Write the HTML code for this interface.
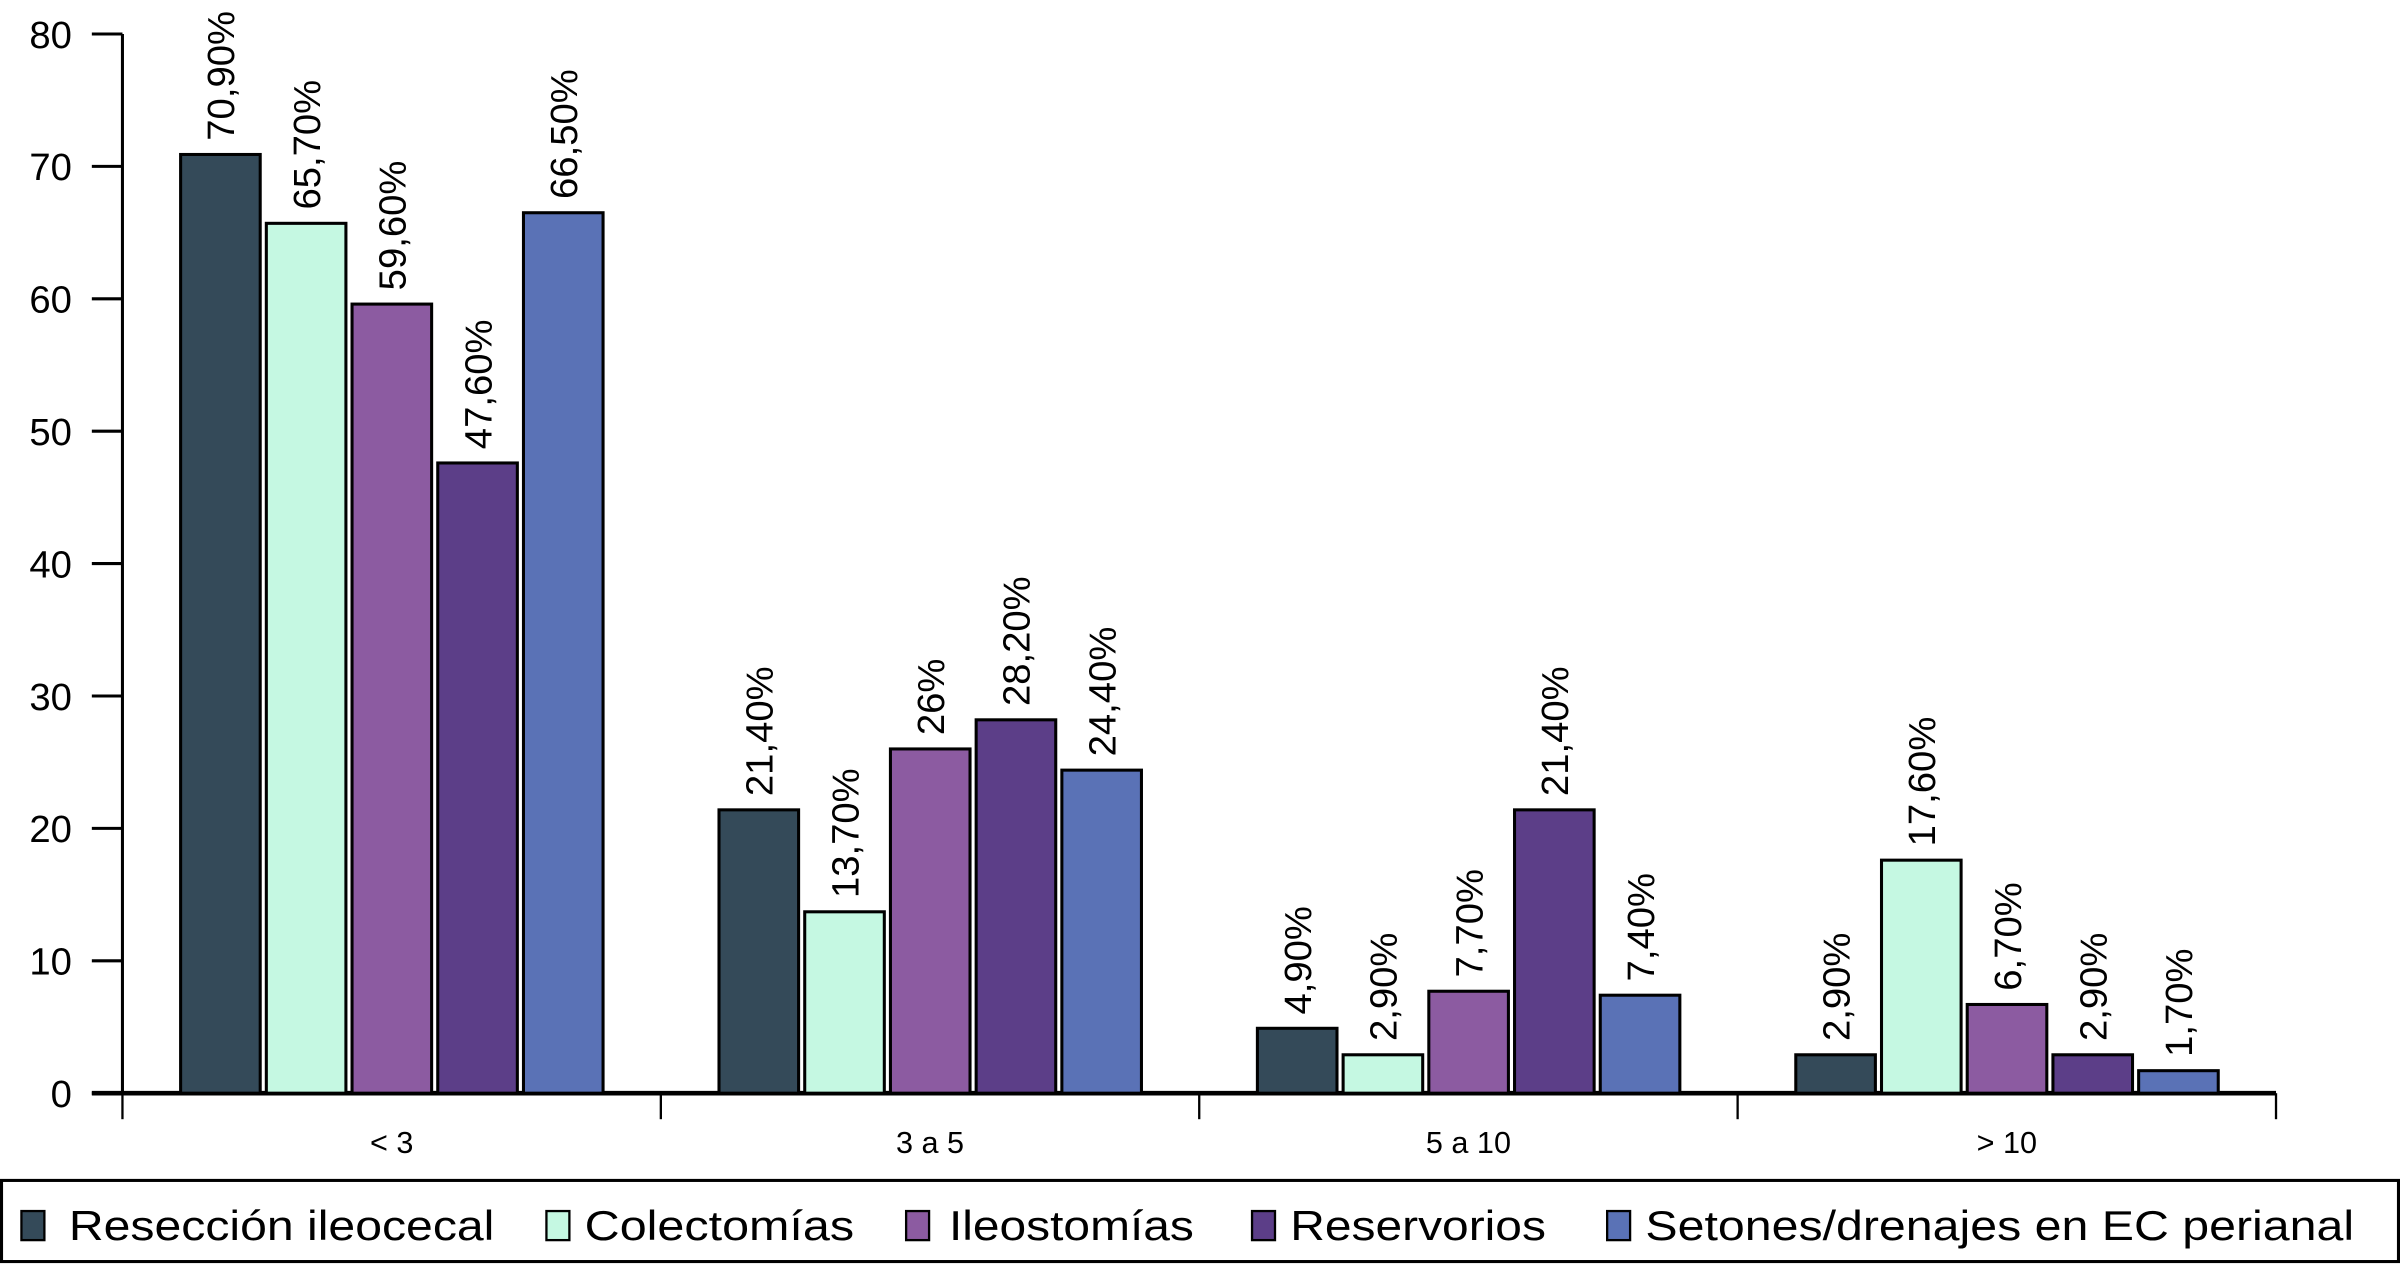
<!DOCTYPE html>
<html><head><meta charset="utf-8"><style>
html,body{margin:0;padding:0;background:#fff}
svg{display:block}
text{font-family:"Liberation Sans",sans-serif;fill:#000}
</style></head><body>
<svg id="chart" width="2400" height="1268" viewBox="0 0 1568 828" xmlns="http://www.w3.org/2000/svg">
<g id="axes"></g>
<g id="bars"></g>
<g id="legend"></g>
</svg>
<script>
const categories = ["< 3", "3 a 5", "5 a 10", "> 10"];
const seriesNames = ["Resección ileocecal", "Colectomías", "Ileostomías", "Reservorios", "Setones/drenajes en EC perianal"];
const resValues = [70.9, 21.4, 4.9, 2.9];
const colValues = [65.7, 13.7, 2.9, 17.6];
const ileValues = [59.6, 26, 7.7, 6.7];
const resvValues = [47.6, 28.2, 21.4, 2.9];
const setValues = [66.5, 24.4, 7.4, 1.7];
const resLabels = ["70,90%", "21,40%", "4,90%", "2,90%"];
const colLabels = ["65,70%", "13,70%", "2,90%", "17,60%"];
const ileLabels = ["59,60%", "26%", "7,70%", "6,70%"];
const resvLabels = ["47,60%", "28,20%", "21,40%", "2,90%"];
const setLabels = ["66,50%", "24,40%", "7,40%", "1,70%"];
const yTicks = [0, 10, 20, 30, 40, 50, 60, 70, 80];

const series = [resValues, colValues, ileValues, resvValues, setValues];
const labels = [resLabels, colLabels, ileLabels, resvLabels, setLabels];
const colors = ["#344a59", "#c5f8e2", "#8c5ba1", "#5c3e88", "#5a72b6"];
const NS = "http://www.w3.org/2000/svg";
const x0 = 80, x1 = 1487, yBase = 714, yTop = 22, yMax = 80;
const groupW = (x1 - x0) / categories.length;
const barW = 52, barStep = 56;
function y(v){ return yBase - (v / yMax) * (yBase - yTop); }
function xBar(ci, si){ return x0 + ci * groupW + 38 + si * barStep; }
function mk(tag, attrs, parent){ const e = document.createElementNS(NS, tag); for (const k in attrs) e.setAttribute(k, attrs[k]); parent.appendChild(e); return e; }

const axes = document.getElementById('axes');
let l = mk('line', {x1: x0, y1: yTop, x2: x0, y2: yBase, stroke: '#000', 'stroke-width': 2}, axes);


yTicks.forEach(t => {
  const tl = mk('line', {x1: 60, y1: y(t), x2: x0, y2: y(t), stroke: '#000', 'stroke-width': 2}, axes);
  
  
  const tx = mk('text', {x: 47, y: y(t) + 9, 'text-anchor': 'end', 'font-size': 25}, axes);
  tx.textContent = t;
  
  
});
categories.forEach((c, i) => {
  const tx = mk('text', {x: x0 + (i + 0.5) * groupW, y: 753, 'text-anchor': 'middle', 'font-size': 20}, axes);
  tx.textContent = c;
  
  
});
for (let i = 0; i <= categories.length; i++) {
  const dl = mk('line', {x1: x0 + i * groupW, y1: yBase, x2: x0 + i * groupW, y2: 731, stroke: '#000', 'stroke-width': 1.5}, axes);
  
  
}

const bars = document.getElementById('bars');
series.forEach((vals, si) => {
  vals.forEach((v, ci) => {
    const bx = xBar(ci, si);
    const r = mk('rect', {x: bx, y: y(v), width: barW, height: yBase - y(v), fill: colors[si], stroke: '#000', 'stroke-width': 2}, bars);
    
    
    const lx = bx + barW / 2 + 9, ly = y(v) - 9;
    const t = mk('text', {x: lx, y: ly, 'font-size': 25, transform: `rotate(-90 ${lx} ${ly})`}, bars);
    t.textContent = labels[si][ci];
    
    
  });
});
const xl = mk('line', {x1: 60, y1: yBase, x2: x1, y2: yBase, stroke: '#000', 'stroke-width': 3}, axes);



const legend = document.getElementById('legend');
const box = mk('rect', {x: 1, y: 771, width: 1566, height: 53, fill: '#fff', stroke: '#000', 'stroke-width': 2}, legend);


const legX = [14, 357, 592, 818, 1050];
const legTX = [45, 382, 620, 843, 1075];
const legW = [278, 176, 160, 167, 463];
seriesNames.forEach((n, i) => {
  const s = mk('rect', {x: legX[i], y: 791, width: 15, height: 19, fill: colors[i], stroke: '#000', 'stroke-width': 1.5}, legend);
  
  
  const t = mk('text', {x: legTX[i], y: 810, 'font-size': 27, textLength: legW[i], lengthAdjust: 'spacingAndGlyphs'}, legend);
  t.textContent = n;
  
  
});
</script>
</body></html>
